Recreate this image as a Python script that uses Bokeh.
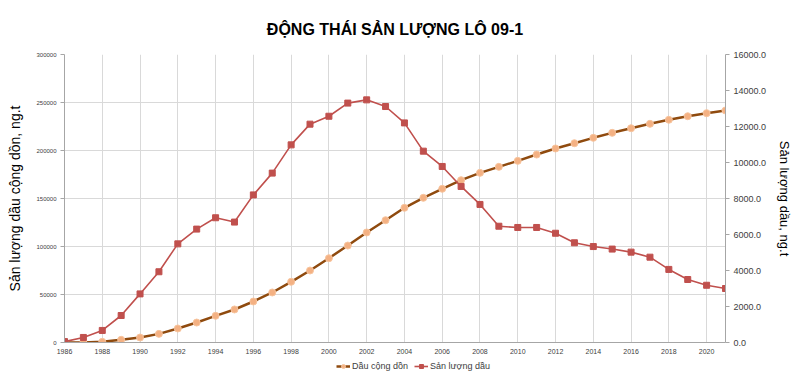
from bokeh.plotting import figure
from bokeh.layouts import column
from bokeh.models import Range1d, LinearAxis, FixedTicker, NumeralTickFormatter, Legend, LegendItem
from bokeh.embed import file_html
from bokeh.resources import INLINE

years = list(range(1986, 2022))
cumulative = [0, 0, 700, 2800, 5200, 9000, 14600, 20800, 27800, 34400, 42700, 52100,
              63200, 75000, 87800, 101000, 114600, 127400, 140300, 150700, 160100, 169100,
              176700, 183000, 189200, 195800, 202100, 207600, 213200, 218400, 223200, 227800,
              232000, 235700, 238900, 241700]
production = [50, 280, 670, 1500, 2700, 3930, 5480, 6300, 6930, 6690, 8200, 9410,
              10980, 12130, 12570, 13300, 13480, 13110, 12200, 10630, 9780, 8670,
              7670, 6460, 6390, 6390, 6070, 5540, 5330, 5190, 5020, 4740,
              4060, 3500, 3180, 3000]
x_ticks = list(range(1986, 2021, 2))
left_ticks = [0, 50000, 100000, 150000, 200000, 250000, 300000]
right_ticks = [0, 2000, 4000, 6000, 8000, 10000, 12000, 14000, 16000]
series_names = ["Dầu cộng dồn", "Sản lượng dầu"]

FONT = "Liberation Sans"
C_CUM_LINE, C_CUM_FILL, C_CUM_EDGE = "#8f4a0e", "#f4b183", "#f7c59f"
C_PROD = "#c0504d"

p = figure(frame_width=661, frame_height=288, output_backend="svg", toolbar_location=None,
           x_range=Range1d(1986, 2021), y_range=Range1d(0, 300000),
           min_border_left=64, min_border_right=40, min_border_top=54, min_border_bottom=0,
           title="ĐỘNG THÁI SẢN LƯỢNG LÔ 09-1")
p.title.align = "center"
p.title.text_font = FONT
p.title.text_font_size = "16px"
p.title.text_font_style = "bold"
p.title.text_color = "#000000"
p.title.standoff = 34
p.outline_line_color = None

p.extra_y_ranges = {"right": Range1d(0, 16000)}

# x axis
p.xaxis.ticker = FixedTicker(ticks=x_ticks)
p.xaxis.major_label_text_font = FONT
p.xaxis.major_label_text_font_size = "7px"
p.xaxis.major_label_text_color = "#404040"
p.xaxis.axis_line_color = "#a6a6a6"
p.xaxis.major_tick_line_color = None
p.xaxis.minor_tick_line_color = None
p.xaxis.major_label_standoff = 0

# left axis
p.yaxis.ticker = FixedTicker(ticks=left_ticks)
p.yaxis.formatter = NumeralTickFormatter(format="0")
p.yaxis.major_label_text_font = FONT
p.yaxis.major_label_text_font_size = "6px"
p.yaxis.major_label_text_color = "#404040"
p.yaxis.axis_line_color = "#a6a6a6"
p.yaxis.major_tick_line_color = "#a6a6a6"
p.yaxis.major_tick_out = 4
p.yaxis.major_tick_in = 0
p.yaxis.minor_tick_line_color = None
p.yaxis.major_label_standoff = 4
p.yaxis.axis_label = "Sản lượng dầu cộng dồn, ng.t"
p.yaxis.axis_label_text_font = FONT
p.yaxis.axis_label_text_font_size = "14px"
p.yaxis.axis_label_text_font_style = "normal"
p.yaxis.axis_label_text_color = "#000000"
p.yaxis.axis_label_standoff = 10

# right axis
ra = LinearAxis(y_range_name="right", ticker=FixedTicker(ticks=right_ticks),
                formatter=NumeralTickFormatter(format="0.0"))
ra.major_label_text_font = FONT
ra.major_label_text_font_size = "9px"
ra.major_label_text_color = "#404040"
ra.axis_line_color = "#a6a6a6"
ra.major_tick_line_color = "#a6a6a6"
ra.major_tick_out = 4
ra.major_tick_in = 0
ra.minor_tick_line_color = None
ra.major_label_standoff = 4
ra.axis_label = "Sản lượng dầu, ng.t"
ra.axis_label_text_font = FONT
ra.axis_label_text_font_size = "13px"
ra.axis_label_text_font_style = "normal"
ra.axis_label_text_color = "#000000"
ra.axis_label_standoff = 8
p.add_layout(ra, "right")

# grids
p.xgrid.ticker = FixedTicker(ticks=x_ticks)
p.xgrid.grid_line_color = "#d9d9d9"
p.ygrid.ticker = FixedTicker(ticks=left_ticks)
p.ygrid.grid_line_color = "#d9d9d9"

# series
p.line(years, cumulative, line_color=C_CUM_LINE, line_width=2.5)
p.scatter(years, cumulative, marker="circle", size=7, fill_color=C_CUM_FILL,
          line_color=C_CUM_EDGE, line_width=1)
p.line(years, production, y_range_name="right", line_color=C_PROD, line_width=1.6)
p.scatter(years, production, y_range_name="right", marker="square", size=6,
          fill_color=C_PROD, line_color=C_PROD)

# legend strip below the chart: same series, drawn outside this strip's ranges,
# so only the legend samples show
lg = figure(width=790, height=22, output_backend="svg", toolbar_location=None,
            x_range=Range1d(0, 1), y_range=Range1d(0, 1),
            x_axis_location=None, y_axis_location=None, min_border=0)
lg.outline_line_color = None
lg.grid.visible = False
k1 = lg.line(years, cumulative, line_color=C_CUM_LINE, line_width=2.5)
k1b = lg.scatter(years, cumulative, marker="circle", size=7, fill_color=C_CUM_FILL,
                 line_color=C_CUM_EDGE, line_width=1)
k2 = lg.line(years, production, line_color=C_PROD, line_width=1.6)
k2b = lg.scatter(years, production, marker="square", size=6, fill_color=C_PROD, line_color=C_PROD)
legend = Legend(items=[LegendItem(label=series_names[0], renderers=[k1, k1b]),
                       LegendItem(label=series_names[1], renderers=[k2, k2b])],
                orientation="horizontal", location=(272, 7),
                label_text_font=FONT, label_text_font_size="9px", label_text_color="#404040",
                background_fill_alpha=0, border_line_color=None,
                glyph_width=14, glyph_height=10, spacing=6, padding=0, margin=0,
                label_standoff=2, label_height=10)
lg.add_layout(legend, "center")

layout = column(p, lg, spacing=0)
open("out.html", "w").write(file_html(layout, INLINE))
